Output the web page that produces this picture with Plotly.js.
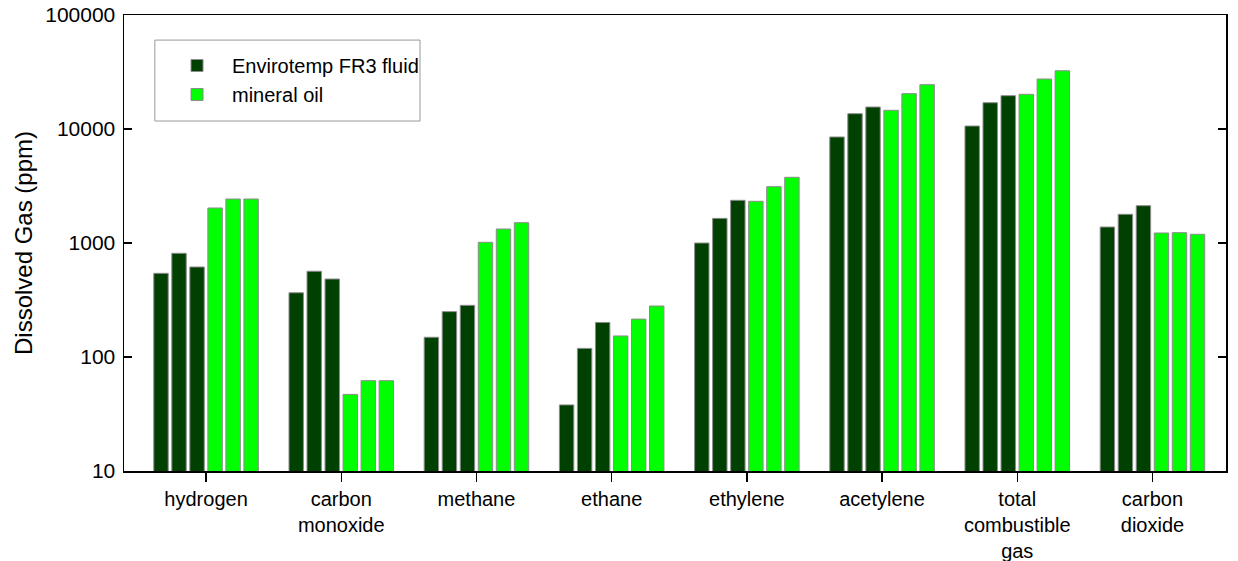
<!DOCTYPE html>
<html>
<head>
<meta charset="utf-8">
<script src="https://cdn.plot.ly/plotly-3.0.1.min.js"></script>
<style>html,body{margin:0;padding:0;background:#fff;}#chart{width:1238px;height:561px;}</style>
</head>
<body>
<div id="chart"></div>
<script>
const categories = ["hydrogen", "carbon<br>monoxide", "methane", "ethane", "ethylene", "acetylene", "total<br>combustible<br>gas", "carbon<br>dioxide"];
const fr3Run1 = [542, 366, 149, 38, 1000, 8510, 10620, 1381];
const fr3Run2 = [812, 565, 250, 119, 1645, 13620, 17010, 1785];
const fr3Run3 = [616, 483, 284, 201, 2368, 15590, 19600, 2125];
const mineralRun1 = [2028, 47, 1014, 153, 2322, 14590, 20150, 1224];
const mineralRun2 = [2432, 62, 1327, 215, 3120, 20420, 27450, 1232];
const mineralRun3 = [2432, 62, 1507, 280, 3770, 24490, 32430, 1192];
const yTickVals = [10, 100, 1000, 10000, 100000];
const yTickText = ["10", "100", "1000", "10000", "100000"];

const darkGreen = "#004000";
const brightGreen = "#00ff00";
const outline = {color: "#8c8c8c", width: 1};
const xIdx = categories.map((c, i) => i);

function mk(vals, name, color, show, group) {
  return {type: "bar", x: xIdx, y: vals, name: name, legendgroup: group, showlegend: show,
          marker: {color: color, line: outline}, hoverinfo: "y"};
}
const data = [
  mk(fr3Run1, "Envirotemp FR3 fluid", darkGreen, true, "fr3"),
  mk(fr3Run2, "Envirotemp FR3 fluid", darkGreen, false, "fr3"),
  mk(fr3Run3, "Envirotemp FR3 fluid", darkGreen, false, "fr3"),
  mk(mineralRun1, "mineral oil", brightGreen, true, "min"),
  mk(mineralRun2, "mineral oil", brightGreen, false, "min"),
  mk(mineralRun3, "mineral oil", brightGreen, false, "min")
];

const fontFam = "Liberation Sans, Arial, sans-serif";
const layout = {
  width: 1238, height: 561,
  margin: {l: 124, r: 12, t: 15, b: 90},
  paper_bgcolor: "#fff", plot_bgcolor: "#fff",
  font: {family: fontFam, size: 20, color: "#000"},
  barmode: "group", bargap: 0.2, bargroupgap: 0.2,
  showlegend: true,
  legend: {x: 0.0345, y: 0.932, xanchor: "left", yanchor: "top", bgcolor: "rgba(0,0,0,0)",
           borderwidth: 0, font: {family: fontFam, size: 20}, tracegroupgap: 0, itemwidth: 60},
  shapes: [{type: "rect", xref: "paper", yref: "paper", x0: 0.028, x1: 0.2686, y0: 0.7675, y1: 0.945,
            line: {color: "#999", width: 1}, fillcolor: "rgba(0,0,0,0)", layer: "below"}],
  xaxis: {
    type: "linear", range: [-0.607, 7.544],
    tickmode: "array", tickvals: xIdx, ticktext: categories,
    ticks: "outside", ticklen: 9, tickwidth: 1.5, tickcolor: "#000",
    showline: true, linecolor: "#000", linewidth: 1.5, mirror: true,
    showgrid: false, zeroline: false, tickfont: {size: 20}
  },
  yaxis: {
    type: "log", range: [1, 5],
    tickmode: "array", tickvals: yTickVals, ticktext: yTickText,
    ticks: "inside", ticklen: 8, tickwidth: 1.5, tickcolor: "#000",
    showline: true, linecolor: "#000", linewidth: 1.5, mirror: "ticks",
    showgrid: false, zeroline: false, tickfont: {size: 21}, ticklabelstandoff: 3,
    title: {text: "Dissolved Gas (ppm)", font: {size: 24}, standoff: 6}
  }
};
Plotly.newPlot("chart", data, layout, {displayModeBar: false, staticPlot: true});
</script>
</body>
</html>
